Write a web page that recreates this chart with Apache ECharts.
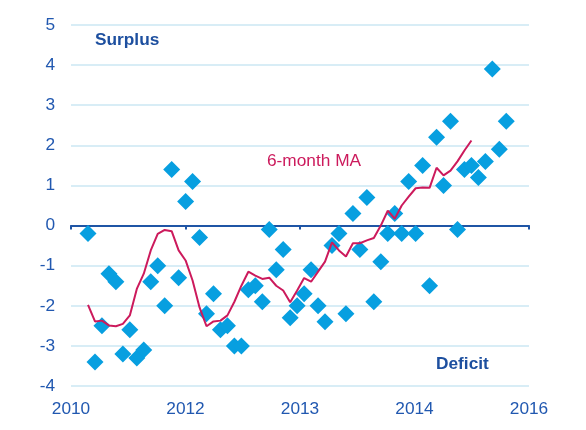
<!DOCTYPE html>
<html>
<head>
<meta charset="utf-8">
<script src="https://cdn.jsdelivr.net/npm/echarts@6/dist/echarts.min.js"></script>
<style>html,body{margin:0;padding:0;background:#fff}#c{width:586px;height:430px}</style>
</head>
<body>
<div id="c"></div>
<script>
// Tick labels shown on the x axis (evenly spaced, as in the source)
const xTickLabels = ['2010', '2012', '2013', '2014', '2016'];
const yTicks = [-4, -3, -2, -1, 0, 1, 2, 3, 4, 5];
// Month position of the first observation on the axis (axis spans 0..axisMonths)
const firstMonth = 2.44;
const axisMonths = 65.7;
// Monthly balance observations (diamonds)
const monthlyValues = [
  -0.2, -3.4, -2.5, -1.2, -1.4, -3.2, -2.6, -3.3, -3.1, -1.4,
  -1.0, -2.0, 1.4, -1.3, 0.6, 1.1, -0.3, -2.2, -1.7, -2.6,
  -2.5, -3.0, -3.0, -1.6, -1.5, -1.9, -0.1, -1.1, -0.6, -2.3,
  -2.0, -1.7, -1.1, -2.0, -2.4, -0.5, -0.2, -2.2, 0.3, -0.6,
  0.7, -1.9, -0.9, -0.2, 0.3, -0.2, 1.1, -0.2, 1.5, -1.5,
  2.2, 1.0, 2.6, -0.1, 1.4, 1.5, 1.2, 1.6, 3.9, 1.9,
  2.6
];
// 6-month moving average as drawn
const maValues = [
  -1.98, -2.39, -2.37, -2.49, -2.51, -2.45, -2.24, -1.58, -1.2, -0.62,
  -0.21, -0.11, -0.14, -0.62, -0.87, -1.37, -2.04, -2.51, -2.39, -2.37,
  -2.24, -1.9, -1.5, -1.15, -1.25, -1.33, -1.3, -1.5, -1.62, -1.91,
  -1.62, -1.31, -1.40, -1.15, -0.9, -0.42, -0.62, -0.77, -0.44, -0.44,
  -0.37, -0.31, 0.0, 0.37, 0.17, 0.5, 0.72, 0.93, 0.95, 0.94,
  1.44, 1.25, 1.37, 1.6, 1.87, 2.12
];

const scatterData = monthlyValues.map((v, i) => [firstMonth + i, v]);
const maData = maValues.map((v, i) => [firstMonth + i, v]);

const FONT = 'Liberation Sans, Arial, sans-serif';
const FS = 17.3;
const BLUE_TXT = '#2158b0';
const interval = axisMonths / (xTickLabels.length - 1);

const chart = echarts.init(document.getElementById('c'), null, {renderer: 'canvas'});
chart.setOption({
  animation: false,
  grid: {left: 71, right: 57, top: 25, bottom: 44, containLabel: false},
  xAxis: [
    {
      type: 'value', min: 0, max: axisMonths, interval: interval,
      axisLine: {show: false, onZero: false},
      axisTick: {show: false},
      splitLine: {show: false},
      axisLabel: {
        color: BLUE_TXT, fontFamily: FONT, fontSize: FS, margin: 15,
        formatter: v => xTickLabels[Math.round(v / interval)]
      }
    },
    {
      type: 'value', min: 0, max: axisMonths, interval: interval, position: 'bottom',
      axisLine: {show: true, onZero: true, lineStyle: {color: '#1f55a5', width: 2}},
      axisTick: {show: true, length: 4, lineStyle: {color: '#1f55a5', width: 2}},
      axisLabel: {show: false},
      splitLine: {show: false}
    }
  ],
  yAxis: {
    type: 'value', min: -4, max: 5, interval: 1,
    axisLine: {show: false},
    axisTick: {show: false},
    splitLine: {show: true, lineStyle: {color: '#cbe7f3', width: 1.5}},
    axisLabel: {color: BLUE_TXT, fontFamily: FONT, fontSize: FS, margin: 16}
  },
  series: [
    {
      type: 'scatter', xAxisIndex: 0, data: scatterData,
      symbol: 'diamond', symbolSize: [17, 17],
      itemStyle: {color: '#079fe0', opacity: 1},
      z: 2
    },
    {
      type: 'line', xAxisIndex: 0, data: maData,
      showSymbol: false, symbol: 'none',
      lineStyle: {color: '#cc1a5c', width: 2},
      z: 3
    }
  ],
  graphic: [
    {type: 'text', left: 95, top: 32, style: {text: 'Surplus', fill: '#1d4f9f', font: 'bold ' + FS + 'px ' + FONT}},
    {type: 'text', left: 436, top: 356, style: {text: 'Deficit', fill: '#1d4f9f', font: 'bold ' + FS + 'px ' + FONT}},
    {type: 'text', left: 267, top: 153, style: {text: '6-month MA', fill: '#cc1a5c', font: FS + 'px ' + FONT}}
  ]
});
</script>
</body>
</html>
